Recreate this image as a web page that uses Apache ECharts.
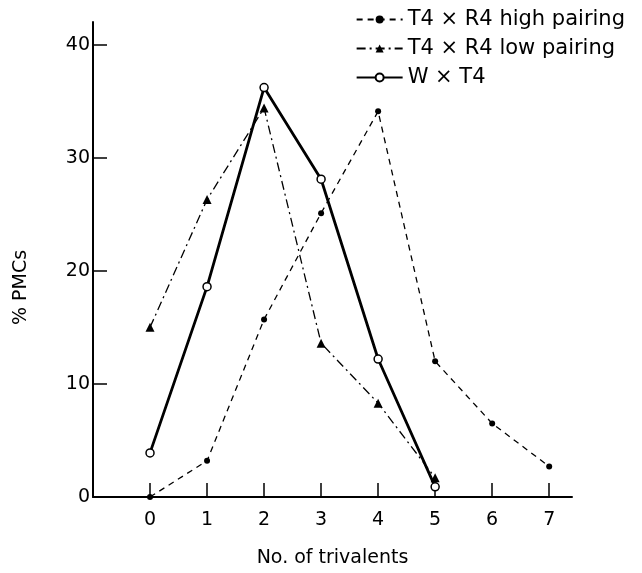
<!DOCTYPE html>
<html>
<head>
<meta charset="utf-8">
<script src="https://cdn.jsdelivr.net/npm/echarts@6/dist/echarts.min.js"></script>
<style>html,body{margin:0;padding:0;background:#fff}#c{width:642px;height:573px}</style>
</head>
<body>
<div id="c"></div>
<script>
const xValues = [0, 1, 2, 3, 4, 5, 6, 7];
const highPairing = [0, 3.2, 15.7, 25.1, 34.1, 12.0, 6.5, 2.7];
const lowPairing = [15.0, 26.3, 34.4, 13.6, 8.3, 1.7];
const wxT4 = [3.9, 18.6, 36.2, 28.1, 12.2, 0.9];
const xTickValues = [0, 1, 2, 3, 4, 5, 6, 7];
const yTickValues = [10, 20, 30, 40];
const yLabelValues = [0, 10, 20, 30, 40];
const seriesNames = ['T4 \u00d7 R4 high pairing', 'T4 \u00d7 R4 low pairing', 'W \u00d7 T4'];

const pair = arr => arr.map((v, i) => [xValues[i], v]);
const FONT = 'DejaVu Sans';

const chart = echarts.init(document.getElementById('c'), null, {renderer: 'canvas'});
chart.setOption({
  backgroundColor: '#fff',
  animation: false,
  textStyle: {fontFamily: FONT, color: '#000'},
  legend: {
    orient: 'vertical',
    right: 12,
    top: 4,
    itemWidth: 46,
    itemHeight: 10,
    itemGap: 8,
    data: seriesNames,
    textStyle: {fontFamily: FONT, fontSize: 21, color: '#000'}
  },
  grid: {left: 93, top: 22, width: 479, height: 480, containLabel: false},
  xAxis: {
    type: 'value',
    min: -1,
    max: 7.4,
    name: 'No. of trivalents',
    nameLocation: 'middle',
    nameGap: 52,
    nameTextStyle: {fontFamily: FONT, fontSize: 19, color: '#000'},
    axisLine: {show: true, onZero: false, lineStyle: {color: '#000', width: 2}},
    axisTick: {show: true, inside: true, length: 14, customValues: xTickValues, lineStyle: {color: '#000', width: 1.5}},
    axisLabel: {customValues: xTickValues, fontFamily: FONT, fontSize: 19, color: '#000', margin: 14},
    splitLine: {show: false}
  },
  yAxis: {
    type: 'value',
    min: 0,
    max: 42,
    name: '% PMCs',
    nameLocation: 'middle',
    nameGap: 62,
    nameTextStyle: {fontFamily: FONT, fontSize: 19, color: '#000', padding: [0, 56, 0, 0]},
    axisLine: {show: true, onZero: false, lineStyle: {color: '#000', width: 2}},
    axisTick: {show: true, inside: true, length: 14, customValues: yTickValues, lineStyle: {color: '#000', width: 1.5}},
    axisLabel: {customValues: yLabelValues, fontFamily: FONT, fontSize: 19, color: '#000', margin: 3},
    splitLine: {show: false}
  },
  series: [
    {
      name: seriesNames[0],
      type: 'line',
      data: pair(highPairing),
      symbol: 'circle',
      symbolSize: 6,
      itemStyle: {color: '#000'},
      lineStyle: {color: '#000', width: 1.3, type: [6, 5]},
      z: 2
    },
    {
      name: seriesNames[1],
      type: 'line',
      data: pair(lowPairing),
      symbol: 'triangle',
      symbolSize: 9,
      itemStyle: {color: '#000'},
      lineStyle: {color: '#000', width: 1.3, type: [9, 4, 2, 4]},
      z: 3
    },
    {
      name: seriesNames[2],
      type: 'line',
      data: pair(wxT4),
      symbol: 'circle',
      symbolSize: 8,
      itemStyle: {color: '#fff', borderColor: '#000', borderWidth: 1.5},
      lineStyle: {color: '#000', width: 2.8},
      z: 4
    }
  ]
});
</script>
</body>
</html>
